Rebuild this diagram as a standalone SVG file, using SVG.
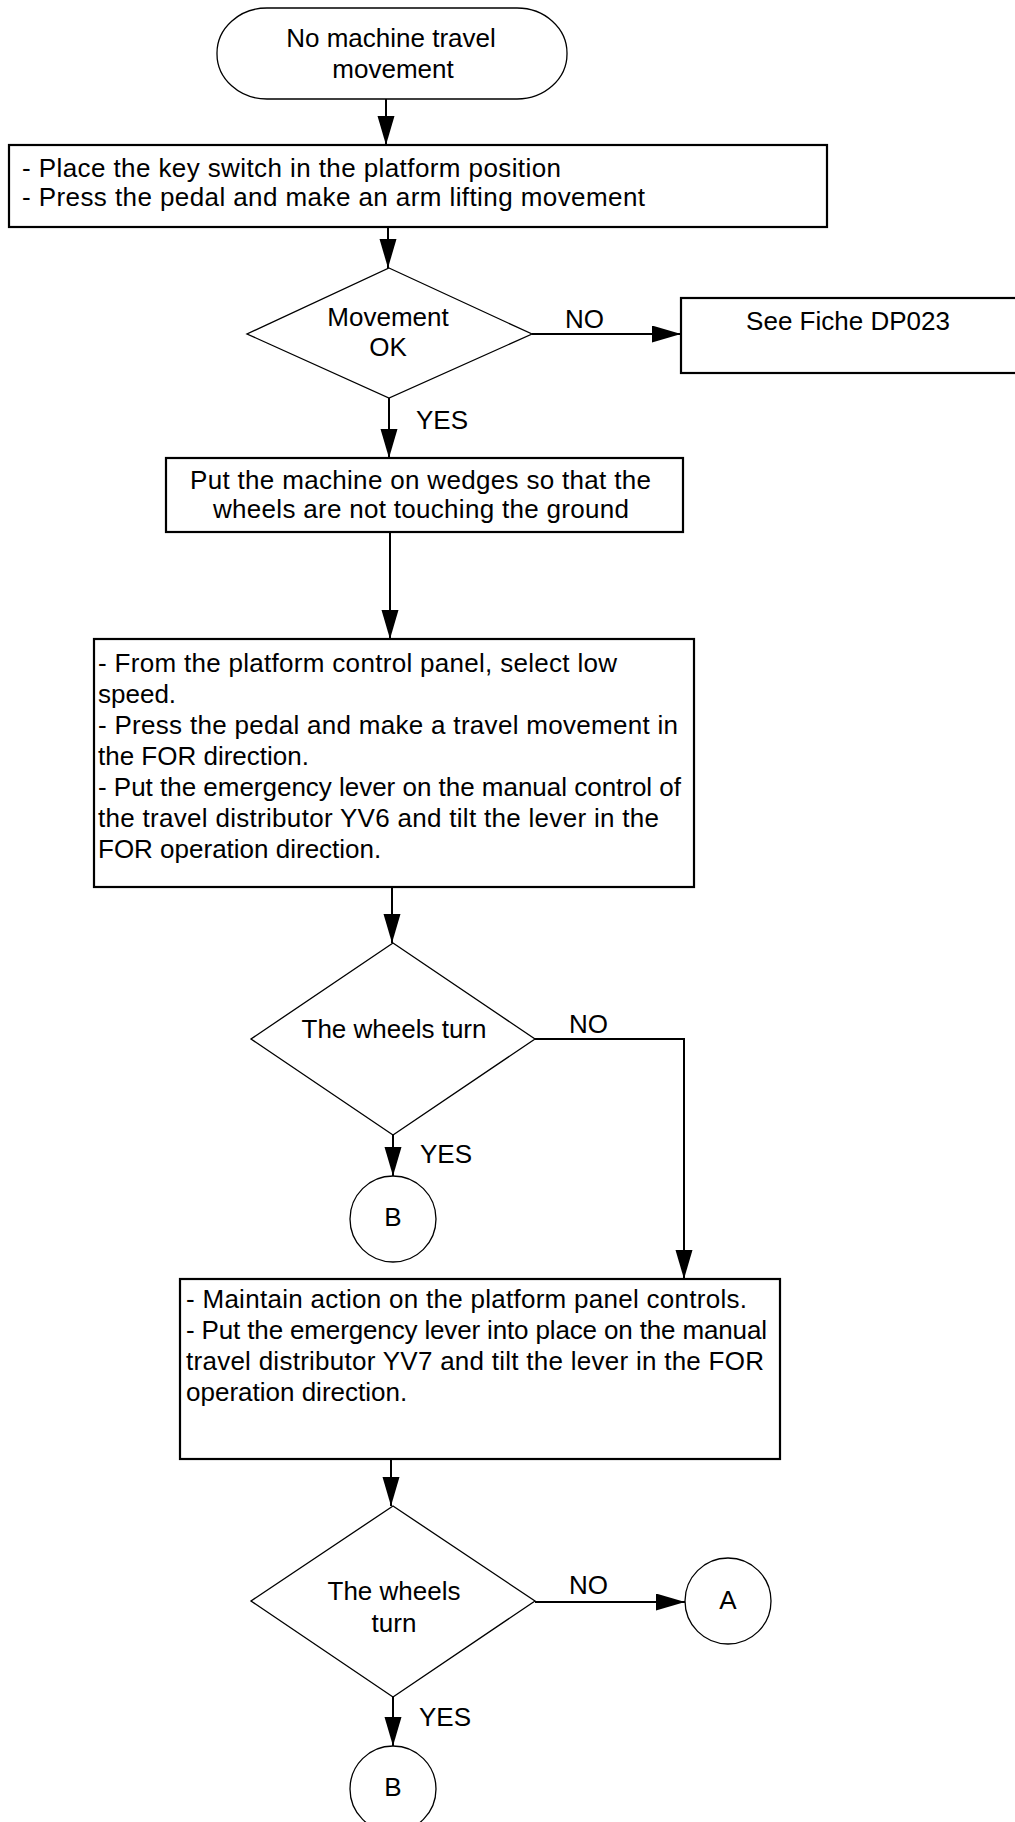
<svg xmlns="http://www.w3.org/2000/svg" width="1015" height="1822" viewBox="0 0 1015 1822">
<style>
  text { font-family: "Liberation Sans", Arial, sans-serif; font-size: 26px; fill: #000; }
  .c { text-anchor: middle; }
  .box { fill: #fff; stroke: #000; stroke-width: 2.2; }
  .thin { fill: #fff; stroke: #000; stroke-width: 1.3; }
  .conn { fill: none; stroke: #000; stroke-width: 2; }
</style>
<defs>
  <marker id="arr" markerUnits="userSpaceOnUse" markerWidth="30" markerHeight="18" refX="29" refY="8.5" orient="auto">
    <path d="M0,0 L29,8.5 L0,17 Z" fill="#000"/>
  </marker>
</defs>
<rect width="1015" height="1822" fill="#fff"/>

<g id="connectors">
  <line class="conn" x1="386" y1="99" x2="386" y2="145" marker-end="url(#arr)"/>
  <line class="conn" x1="388" y1="227" x2="388" y2="268" marker-end="url(#arr)"/>
  <line class="conn" x1="532" y1="334" x2="681" y2="334" marker-end="url(#arr)"/>
  <line class="conn" x1="389" y1="398" x2="389" y2="458" marker-end="url(#arr)"/>
  <line class="conn" x1="390" y1="532" x2="390" y2="639" marker-end="url(#arr)"/>
  <line class="conn" x1="392" y1="887" x2="392" y2="943" marker-end="url(#arr)"/>
  <polyline class="conn" points="535,1039 684,1039 684,1279" marker-end="url(#arr)"/>
  <line class="conn" x1="393" y1="1135" x2="393" y2="1176" marker-end="url(#arr)"/>
  <line class="conn" x1="391" y1="1459" x2="391" y2="1506" marker-end="url(#arr)"/>
  <line class="conn" x1="535" y1="1602" x2="685" y2="1602" marker-end="url(#arr)"/>
  <line class="conn" x1="393" y1="1697" x2="393" y2="1746" marker-end="url(#arr)"/>
  <text x="565" y="328">NO</text>
  <text x="416" y="429">YES</text>
  <text x="569" y="1033">NO</text>
  <text x="420" y="1163">YES</text>
  <text x="569" y="1594">NO</text>
  <text x="419" y="1726">YES</text>
</g>

<g id="start">
  <rect class="thin" x="217" y="8" width="350" height="91" rx="50" ry="45"/>
  <text class="c" x="391" y="47">No machine travel</text>
  <text class="c" x="393" y="78">movement</text>
</g>

<g id="step1">
  <rect class="box" x="9" y="145" width="818" height="82"/>
  <text x="22" y="177" textLength="539" lengthAdjust="spacing">- Place the key switch in the platform position</text>
  <text x="22" y="206" textLength="623" lengthAdjust="spacing">- Press the pedal and make an arm lifting movement</text>
</g>

<g id="decision1">
  <polygon class="thin" points="389,268 532,334 389,398 247,334"/>
  <text class="c" x="388" y="326">Movement</text>
  <text class="c" x="388" y="356">OK</text>
</g>

<g id="fiche">
  <rect class="box" x="681" y="298" width="340" height="75"/>
  <text class="c" x="848" y="330">See Fiche DP023</text>
</g>

<g id="step2">
  <rect class="box" x="166" y="458" width="517" height="74"/>
  <text x="190" y="489" textLength="461" lengthAdjust="spacing">Put the machine on wedges so that the</text>
  <text x="213" y="518" textLength="416" lengthAdjust="spacing">wheels are not touching the ground</text>
</g>

<g id="step3">
  <rect class="box" x="94" y="639" width="600" height="248"/>
  <text x="98" y="672" textLength="519" lengthAdjust="spacing">- From the platform control panel, select low</text>
  <text x="98" y="703">speed.</text>
  <text x="98" y="734" textLength="580" lengthAdjust="spacing">- Press the pedal and make a travel movement in</text>
  <text x="98" y="765">the FOR direction.</text>
  <text x="98" y="796" textLength="583" lengthAdjust="spacing">- Put the emergency lever on the manual control of</text>
  <text x="98" y="827" textLength="561" lengthAdjust="spacing">the travel distributor YV6 and tilt the lever in the</text>
  <text x="98" y="858">FOR operation direction.</text>
</g>

<g id="decision2">
  <polygon class="thin" points="393,943 535,1039 393,1135 251,1039"/>
  <text class="c" x="394" y="1038">The wheels turn</text>
</g>

<g id="connectorB1">
  <circle class="thin" cx="393" cy="1219" r="43"/>
  <text class="c" x="393" y="1226">B</text>
</g>

<g id="step4">
  <rect class="box" x="180" y="1279" width="600" height="180"/>
  <text x="186" y="1308" textLength="561" lengthAdjust="spacing">- Maintain action on the platform panel controls.</text>
  <text x="186" y="1339" textLength="581" lengthAdjust="spacing">- Put the emergency lever into place on the manual</text>
  <text x="186" y="1370" textLength="578" lengthAdjust="spacing">travel distributor YV7 and tilt the lever in the FOR</text>
  <text x="186" y="1401">operation direction.</text>
</g>

<g id="decision3">
  <polygon class="thin" points="393,1506 535,1601 393,1697 251,1601"/>
  <text class="c" x="394" y="1600">The wheels</text>
  <text class="c" x="394" y="1632">turn</text>
</g>

<g id="connectorA">
  <circle class="thin" cx="728" cy="1601" r="43"/>
  <text class="c" x="728" y="1609">A</text>
</g>

<g id="connectorB2">
  <circle class="thin" cx="393" cy="1789" r="43"/>
  <text class="c" x="393" y="1796">B</text>
</g>
</svg>
